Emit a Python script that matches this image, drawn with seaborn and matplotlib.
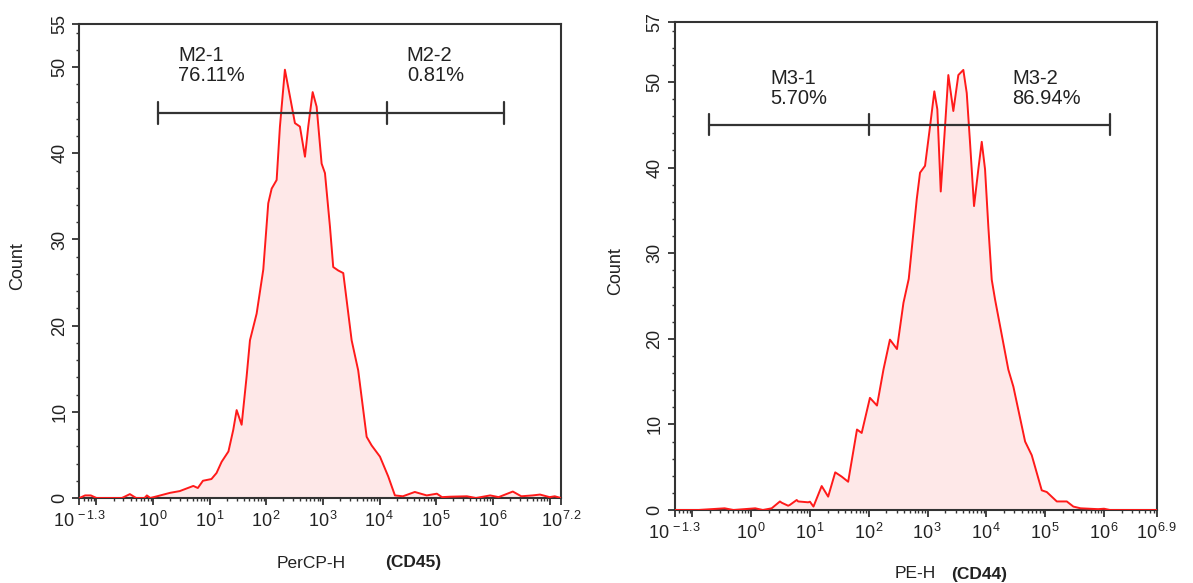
import numpy as np
import pandas as pd
import matplotlib
matplotlib.use("Agg")
import matplotlib.pyplot as plt
import seaborn as sns
from matplotlib.ticker import FixedLocator, MultipleLocator

# ---------------- data (log10 intensity, count) ----------------
cd45_log = [-1.3, -1.2, -1.1, -1.0, -0.55, -0.41, -0.3, -0.15, -0.11, -0.05, 0.07, 0.30, 0.47,
            0.71, 0.79, 0.88, 1.03, 1.12, 1.21, 1.33, 1.415, 1.475, 1.563, 1.651, 1.71, 1.828,
            1.945, 2.033, 2.093, 2.181, 2.239, 2.327, 2.416, 2.504, 2.592, 2.681, 2.739, 2.817,
            2.887, 2.975, 3.034, 3.122, 3.18, 3.268, 3.357, 3.505, 3.621, 3.77, 3.858, 4.005,
            4.151, 4.269, 4.41, 4.62, 4.83, 5.01, 5.1, 5.24, 5.54, 5.7, 5.95, 6.1, 6.35, 6.5,
            6.7, 6.83, 7.0, 7.09, 7.2]
cd45_count = [0, 0.3, 0.3, 0, 0, 0.45, 0, 0, 0.3, 0, 0.2, 0.6, 0.8,
              1.4, 1.16, 2.0, 2.2, 2.9, 4.2, 5.4, 7.9, 10.2, 8.5, 14.1, 18.3, 21.4,
              26.5, 34.2, 35.9, 36.9, 43.1, 49.7, 46.6, 43.5, 43.1, 39.6, 43.1, 47.1,
              45.4, 38.8, 37.7, 31.5, 26.8, 26.4, 26.1, 18.3, 14.8, 7.1, 6.1, 4.8,
              2.5, 0.3, 0.2, 0.7, 0.3, 0.5, 0.1, 0.15, 0.2, 0, 0.3, 0.1, 0.75, 0.2,
              0.3, 0.4, 0.1, 0.2, 0]

cd44_log = [-1.3, -0.9, -0.45, -0.3, 0.07, 0.2, 0.35, 0.49, 0.52, 0.63, 0.66, 0.775, 0.80,
            0.97, 1.00, 1.06, 1.20, 1.31, 1.43, 1.54, 1.65, 1.80, 1.88, 2.02, 2.14, 2.25,
            2.36, 2.48, 2.59, 2.68, 2.816, 2.872, 2.957, 3.042, 3.115, 3.166, 3.224, 3.297,
            3.353, 3.438, 3.523, 3.608, 3.666, 3.722, 3.79, 3.863, 3.921, 3.977, 4.033, 4.091,
            4.147, 4.373, 4.459, 4.658, 4.771, 4.941, 5.027, 5.197, 5.367, 5.479, 5.6, 5.9,
            6.0, 6.1, 6.9]
cd44_count = [0, 0, 0.2, 0, 0.2, 0, 0.2, 1.0, 0.85, 0.5, 0.6, 1.17, 1.0,
              0.9, 0.97, 0.4, 2.8, 1.56, 4.4, 3.9, 3.3, 9.4, 9.0, 13.1, 12.2, 16.4,
              19.9, 18.8, 24.2, 27.0, 36.3, 39.4, 40.2, 44.8, 48.9, 46.8, 37.2, 44.8,
              50.8, 46.6, 50.8, 51.4, 48.7, 42.9, 35.5, 39.8, 43.0, 39.8, 33.1, 26.9,
              24.6, 16.4, 14.4, 8.0, 6.4, 2.3, 2.1, 1.0, 1.0, 0.4, 0.2, 0.1,
              0.15, 0, 0]

# gates (log10 boundaries) and their labels
cd45_gates = [0.09, 4.13, 6.19]
cd45_gate_level = 44.7
cd45_gate_names = ["M2-1", "M2-2"]
cd45_gate_pcts = ["76.11%", "0.81%"]

cd44_gates = [-0.72, 2.00, 6.10]
cd44_gate_level = 45.0
cd44_gate_names = ["M3-1", "M3-2"]
cd44_gate_pcts = ["5.70%", "86.94%"]

cd45_xrange = [-1.3, 7.2]
cd44_xrange = [-1.3, 6.9]
cd45_ymax = 55
cd44_ymax = 57

# ---------------- style ----------------
sns.set_style("ticks")
plt.rcParams["font.family"] = ["Liberation Sans", "DejaVu Sans"]
plt.rcParams["mathtext.fontset"] = "custom"
plt.rcParams["mathtext.rm"] = "Liberation Sans"
plt.rcParams["mathtext.it"] = "Liberation Sans"
plt.rcParams["mathtext.default"] = "regular"

LINE = "#ff1a1a"
FILL = "#fee8e8"
FRAME = "#333333"
TXT = "#222222"

fig = plt.figure(figsize=(11.93, 5.83), dpi=100)
axL = fig.add_axes([0.0666, 0.1458, 0.4036, 0.8130])
axR = fig.add_axes([0.5655, 0.1252, 0.4043, 0.8371])


def fmt_exp(v):
    if abs(v - round(v)) < 1e-9:
        return r"$10^{\,%d}$" % int(round(v))
    return r"$10^{\,%s}$" % ("%g" % v)


def draw(ax, xs, ys, xr, ymax, gates, glevel, names, pcts, label_pos, label_top):
    df = pd.DataFrame({"log": xs, "count": ys})
    ax.fill_between(df["log"], df["count"], 0, color=FILL, lw=0, zorder=1)
    sns.lineplot(data=df, x="log", y="count", ax=ax, color=LINE, lw=1.4,
                 estimator=None, sort=False, zorder=3)
    ax.set_xlim(xr)
    ax.set_ylim(0, ymax)

    # gate bar
    ax.plot([gates[0], gates[-1]], [glevel, glevel], color=FRAME, lw=1.6, zorder=4)
    for g in gates:
        ax.plot([g, g], [glevel - 1.25, glevel + 1.25], color=FRAME, lw=1.6, zorder=4)
    for lx, n, p in zip(label_pos, names, pcts):
        ax.text(lx, label_top, n + "\n" + p, ha="left", va="top", fontsize=14.5,
                color=TXT, linespacing=1.05, zorder=5)

    # frame
    for s in ax.spines.values():
        s.set_visible(True)
        s.set_color(FRAME)
        s.set_linewidth(1.5)

    # x ticks
    decades = list(range(int(np.ceil(xr[0])), int(np.floor(xr[1])) + 1))
    major = [xr[0]] + decades + [xr[1]]
    labels = []
    for v in major:
        if v == xr[0] or v == xr[1] or v >= 0:
            labels.append(fmt_exp(v))
        else:
            labels.append("")
    for i, v in enumerate(major):
        if v in decades and xr[1] - v < 0.5 and v != xr[1]:
            labels[i] = ""
    ax.xaxis.set_major_locator(FixedLocator(major))
    ax.set_xticklabels(labels)
    minor = []
    for d in range(int(np.floor(xr[0])), int(np.ceil(xr[1])) + 1):
        for m in range(2, 10):
            v = d + np.log10(m)
            if xr[0] < v < xr[1]:
                minor.append(v)
    ax.xaxis.set_minor_locator(FixedLocator(minor))

    # y ticks
    yt = list(range(0, ymax, 10))
    if yt[-1] != ymax:
        yt.append(ymax)
    ax.yaxis.set_major_locator(FixedLocator(yt))
    ax.yaxis.set_minor_locator(MultipleLocator(2))
    ax.set_yticklabels([str(v) for v in yt], rotation=90, va="center")

    ax.tick_params(axis="both", which="major", direction="out", length=5, width=1.3,
                   color=FRAME, labelsize=13, labelcolor=TXT)
    ax.tick_params(axis="both", which="minor", direction="out", length=2.5, width=1,
                   color=FRAME)
    ax.tick_params(axis="x", which="major", pad=4)
    ax.tick_params(axis="y", which="major", pad=3)

    ax.set_xlabel("")
    ax.set_ylabel("Count", fontsize=13, color=TXT)


draw(axL, cd45_log, cd45_count, cd45_xrange, cd45_ymax, cd45_gates, cd45_gate_level,
     cd45_gate_names, cd45_gate_pcts, [0.44, 4.48], 52.4)
draw(axR, cd44_log, cd44_count, cd44_xrange, cd44_ymax, cd44_gates, cd44_gate_level,
     cd44_gate_names, cd44_gate_pcts, [0.32, 4.445], 51.5)

axL.yaxis.set_label_coords(-0.11, 0.49)
axR.yaxis.set_label_coords(-0.105, 0.49)

# x axis titles
fig.text(311 / 1193, 1 - 563 / 583, "PerCP-H", ha="center", va="center",
         fontsize=12.5, color=TXT)
fig.text(413 / 1193, 1 - 563 / 583, "(CD45)", ha="center", va="center",
         fontsize=12.5, fontweight="bold", color=TXT)
fig.text(915 / 1193, 1 - 574 / 583, "PE-H", ha="center", va="center",
         fontsize=12.5, color=TXT)
fig.text(979 / 1193, 1 - 574 / 583, "(CD44)", ha="center", va="center",
         fontsize=12.5, fontweight="bold", color=TXT)

fig.savefig("out.png", dpi=100, facecolor="white")
